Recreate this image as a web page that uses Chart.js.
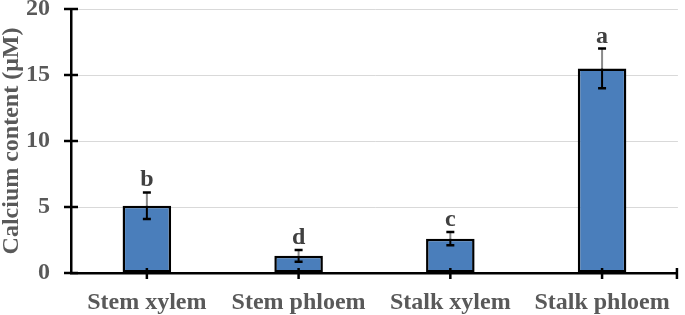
<!DOCTYPE html>
<html>
<head>
<meta charset="utf-8">
<script src="https://cdn.jsdelivr.net/npm/chart.js@4.4.1/dist/chart.umd.min.js"></script>
<style>
html,body{margin:0;padding:0;background:#fff;}
#wrap{width:685px;height:315px;position:relative;}
</style>
</head>
<body>
<div id="wrap"><canvas id="c" width="685" height="315"></canvas></div>
<script>
const categories = ['Stem xylem', 'Stem phloem', 'Stalk xylem', 'Stalk phloem'];
const calcium = [5.1, 1.3, 2.6, 15.5];
const errors = [1.0, 0.45, 0.5, 1.5];
const letters = ['b', 'd', 'c', 'a'];
const yTicks = [0, 5, 10, 15, 20];

const FONT = '"Liberation Serif", "Times New Roman", serif';

const decor = {
  id: 'decor',
  afterDatasetsDraw(chart) {
    const ctx = chart.ctx;
    const ys = chart.scales.y;
    const area = chart.chartArea;
    const meta = chart.getDatasetMeta(0);
    ctx.save();
    meta.data.forEach((bar, i) => {
      const x = bar.x;
      const v = calcium[i], e = errors[i];
      const yTop = ys.getPixelForValue(v + e);
      const yBot = ys.getPixelForValue(v - e);
      const yBar = ys.getPixelForValue(v);
      ctx.lineWidth = 2;
      ctx.strokeStyle = '#8a8a8a';
      ctx.beginPath(); ctx.moveTo(x, yTop); ctx.lineTo(x, yBar); ctx.stroke();
      ctx.strokeStyle = '#000';
      ctx.beginPath(); ctx.moveTo(x, yBar); ctx.lineTo(x, yBot); ctx.stroke();
      ctx.lineWidth = 2.5;
      ctx.beginPath();
      ctx.moveTo(x - 4, yTop); ctx.lineTo(x + 4, yTop);
      ctx.moveTo(x - 4, yBot); ctx.lineTo(x + 4, yBot);
      ctx.stroke();
      ctx.fillStyle = '#404040';
      ctx.font = 'bold 24px ' + FONT;
      ctx.textAlign = 'center';
      ctx.textBaseline = 'alphabetic';
      ctx.fillText(letters[i], x, yTop - 6);
    });
    ctx.strokeStyle = '#000';
    ctx.lineWidth = 2.5;
    yTicks.forEach(t => {
      const y = ys.getPixelForValue(t);
      ctx.beginPath(); ctx.moveTo(area.left - 7, y); ctx.lineTo(area.left + 7, y); ctx.stroke();
    });
    const xt = meta.data.map(b => b.x).concat([area.right - 1]);
    xt.forEach(x => {
      ctx.beginPath(); ctx.moveTo(x, area.bottom - 5); ctx.lineTo(x, area.bottom + 6); ctx.stroke();
    });
    ctx.restore();
  }
};

new Chart(document.getElementById('c'), {
  type: 'bar',
  data: {
    labels: categories,
    datasets: [{
      data: calcium,
      backgroundColor: '#4a7ebb',
      borderColor: '#000',
      borderWidth: 2.5,
      borderSkipped: false,
      categoryPercentage: 1,
      barPercentage: 0.32
    }]
  },
  options: {
    responsive: false,
    animation: false,
    devicePixelRatio: 1,
    layout: { padding: { top: 9, right: 2, left: 0, bottom: 0 } },
    plugins: { legend: { display: false }, tooltip: { enabled: false } },
    scales: {
      x: {
        grid: { display: false, drawTicks: false },
        border: { display: true, color: '#000', width: 2.5 },
        ticks: { color: '#595959', padding: 15, font: { family: FONT, size: 24, weight: 'bold' } },
        afterFit: s => { s.height = 42; }
      },
      y: {
        min: 0, max: 20,
        afterBuildTicks: s => { s.ticks = yTicks.map(v => ({ value: v })); },
        ticks: { color: '#595959', padding: 21, font: { family: FONT, size: 24, weight: 'bold' } },
        grid: { color: '#d9d9d9', lineWidth: 1, drawTicks: false },
        border: { display: true, color: '#000', width: 2.5 },
        title: { display: true, text: 'Calcium content (μM)', color: '#595959', padding: 0,
                 font: { family: FONT, size: 24, weight: 'bold', lineHeight: 0.95 } },
        afterFit: s => { s.width = 71; s.paddingTop = 0; s.paddingBottom = 0; }
      }
    }
  },
  plugins: [decor]
});
</script>
</body>
</html>
